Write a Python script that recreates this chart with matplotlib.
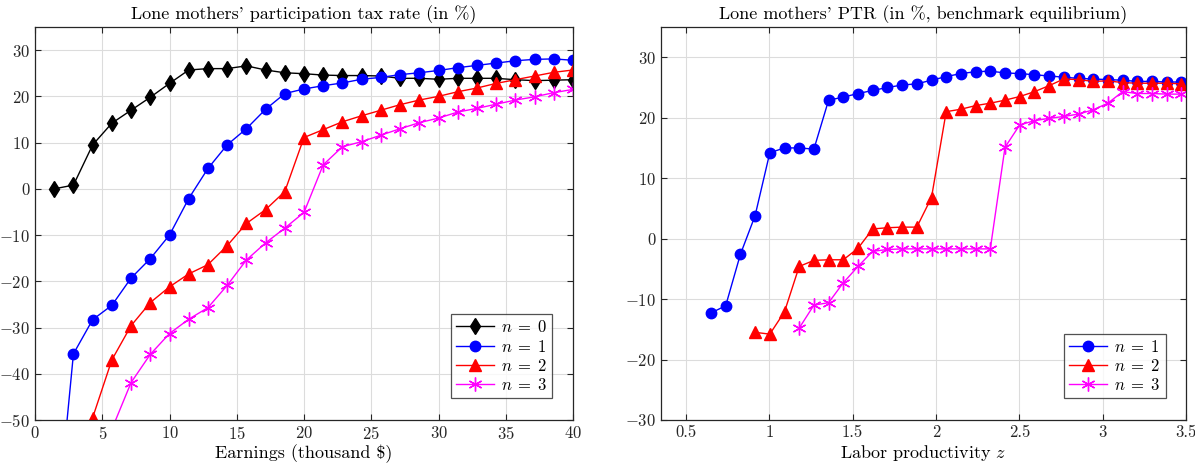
import numpy as np
import matplotlib
matplotlib.use('Agg')
import matplotlib.pyplot as plt

plt.rcParams['font.family'] = ['cmr10', 'DejaVu Serif']
plt.rcParams['mathtext.fontset'] = 'cm'
plt.rcParams['axes.formatter.use_mathtext'] = True
plt.rcParams['axes.unicode_minus'] = True

## left panel data: earnings grid (thousand $)
earn = 40.0 * np.arange(1, 29) / 28.0
ptr_n0 = [0.0, 0.8, 9.5, 14.2, 17.0, 19.8, 22.8, 25.7, 26.0, 26.0, 26.6, 25.7, 25.1, 24.9,
          24.6, 24.5, 24.5, 24.4, 23.9, 23.9, 23.7, 23.9, 23.9, 23.9, 23.6, 23.4, 23.5, 23.6]
ptr_n1 = [-79.0, -35.7, -28.3, -25.2, -19.3, -15.1, -10.0, -2.1, 4.4, 9.5, 13.0, 17.2, 20.6, 21.6,
          22.3, 22.9, 23.7, 24.1, 24.7, 25.1, 25.6, 26.2, 26.7, 27.2, 27.7, 28.0, 28.1, 27.8]
ptr_n2 = [np.nan, np.nan, -49.5, -37.0, -29.6, -24.6, -21.2, -18.4, -16.4, -12.3, -7.5, -4.5, -0.6, 11.1,
          12.8, 14.5, 15.8, 17.0, 18.2, 19.2, 20.0, 21.0, 21.8, 22.8, 23.6, 24.4, 25.2, 25.7]
ptr_n3 = [np.nan, np.nan, np.nan, -52.0, -41.9, -35.8, -31.3, -28.2, -25.7, -20.9, -15.4, -11.7, -8.5, -5.1,
          5.2, 9.1, 10.2, 11.6, 13.0, 14.3, 15.3, 16.6, 17.4, 18.3, 19.2, 19.9, 20.8, 21.5]

## right panel data: labor productivity grid
z = 0.65 + 0.0882 * np.arange(33)
eq_n1 = [-12.3, -11.1, -2.6, 3.8, 14.2, 15.0, 15.0, 14.8, 22.9, 23.4, 24.0, 24.5, 25.0, 25.4, 25.6,
         26.2, 26.8, 27.3, 27.6, 27.7, 27.4, 27.3, 27.1, 26.9, 26.7, 26.5, 26.4, 26.3, 26.2, 26.0,
         26.0, 25.9, 25.9]
eq_n2 = [np.nan, np.nan, np.nan, -15.5, -15.8, -12.1, -4.6, -3.6, -3.5, -3.5, -1.6, 1.6, 1.8, 1.9, 1.9,
         6.8, 21.0, 21.4, 22.0, 22.4, 22.9, 23.5, 24.3, 25.3, 26.4, 26.3, 26.0, 26.1, 25.8, 25.7,
         25.7, 25.7, 25.6]
eq_n3 = [np.nan] * 6 + [-14.8, -11.0, -10.6, -7.3, -4.6, -2.1, -1.8, -1.7, -1.7, -1.7, -1.7, -1.7,
         -1.7, -1.7, 15.1, 18.8, 19.5, 19.9, 20.2, 20.6, 21.3, 22.4, 24.3, 24.0, 24.0, 23.9, 23.9]

MAG = '#ff00ff'

fig = plt.figure(figsize=(11.95, 4.70), dpi=100)
ax1 = fig.add_axes([35 / 1195, 50 / 470, 538 / 1195, 393 / 470])
ax2 = fig.add_axes([661 / 1195, 50 / 470, 525 / 1195, 393 / 470])

def style(ax):
    ax.grid(True, color='#dcdcdc', linewidth=0.8)
    ax.set_axisbelow(True)
    ax.tick_params(direction='in', top=True, right=True, labelsize=12, length=4, colors='#262626')
    for s in ax.spines.values():
        s.set_color('#262626')
        s.set_linewidth(0.9)

def legend(ax):
    leg = ax.legend(loc='lower right', fontsize=12, fancybox=False, edgecolor='#262626',
                    handlelength=2.3, borderpad=0.3, labelspacing=0.2, handletextpad=0.4,
                    bbox_to_anchor=(0.977, 0.034))
    leg.get_frame().set_linewidth(0.9)

ax1.plot(earn, ptr_n0, '-', color='k', marker='d', markersize=8, lw=1, label=r'$n\;=\;0$')
ax1.plot(earn, ptr_n1, '-', color='b', marker='o', markersize=7.5, lw=1, label=r'$n\;=\;1$')
ax1.plot(earn, ptr_n2, '-', color='r', marker='^', markersize=8.5, lw=1, label=r'$n\;=\;2$')
ax1.plot(earn, ptr_n3, '-', color=MAG, marker=(6, 2, 0), markersize=10, mew=1, lw=1, label=r'$n\;=\;3$')
ax1.set_xlim(0, 40)
ax1.set_ylim(-50, 35)
ax1.set_xticks(np.arange(0, 41, 5))
ax1.set_yticks(np.arange(-50, 31, 10))
ax1.set_title("Lone mothers' participation tax rate (in %)", fontsize=13, pad=6)
ax1.set_xlabel(r'Earnings (thousand \$)', fontsize=13, labelpad=2)
style(ax1)
legend(ax1)

ax2.plot(z, eq_n1, '-', color='b', marker='o', markersize=7.5, lw=1, label=r'$n\;=\;1$')
ax2.plot(z, eq_n2, '-', color='r', marker='^', markersize=8.5, lw=1, label=r'$n\;=\;2$')
ax2.plot(z, eq_n3, '-', color=MAG, marker=(6, 2, 0), markersize=10, mew=1, lw=1, label=r'$n\;=\;3$')
ax2.set_xlim(0.35, 3.5)
ax2.set_ylim(-30, 35)
ax2.set_xticks([0.5, 1, 1.5, 2, 2.5, 3, 3.5])
ax2.set_xticklabels(['0.5', '1', '1.5', '2', '2.5', '3', '3.5'])
ax2.set_yticks(np.arange(-30, 31, 10))
ax2.set_title("Lone mothers' PTR (in %, benchmark equilibrium)", fontsize=13, pad=6)
ax2.set_xlabel('Labor productivity $z$', fontsize=13, labelpad=2)
style(ax2)
legend(ax2)

fig.savefig('out.png', dpi=100)
